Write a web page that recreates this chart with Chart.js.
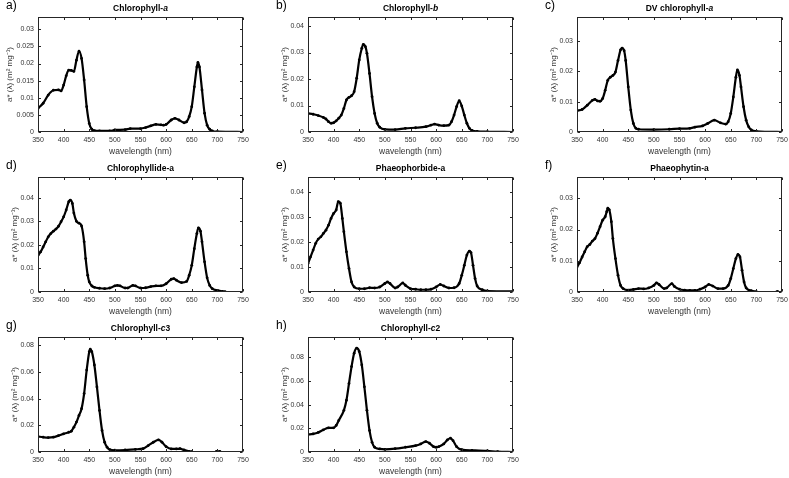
<!DOCTYPE html>
<html>
<head>
<meta charset="utf-8">
<script src="https://cdn.jsdelivr.net/npm/chart.js@4.4.1/dist/chart.umd.min.js"></script>
<style>
  body { margin: 0; background: #fff; }
  #fig { position: relative; width: 789px; height: 478px; overflow: hidden; background: #fff; }
  #fig canvas { position: absolute; }
</style>
</head>
<body>
<div id="fig"></div>
<script>
// wavelength axis (nm)
const xTicks = [350, 400, 450, 500, 550, 600, 650, 700, 750];

// a) Chlorophyll-a
const chlaWl = [350,360,370,380,390,395,400,405,410,415,420,425,430,435,440,445,450,455,460,470,490,500,520,530,550,560,570,580,590,595,600,610,617,625,635,640,645,650,655,660,662,665,670,675,680,685,690,700,750];
const chlaVal = [0.0069,0.0084,0.0108,0.0122,0.0123,0.012,0.0137,0.0164,0.0181,0.018,0.0177,0.021,0.0236,0.0215,0.0152,0.0074,0.0025,0.0008,0.0004,0.0003,0.0003,0.0006,0.0007,0.001,0.001,0.0013,0.0018,0.0022,0.0021,0.002,0.0022,0.0035,0.004,0.0035,0.0027,0.003,0.0045,0.0074,0.0132,0.019,0.0203,0.019,0.0123,0.0055,0.002,0.0008,0.0003,0.0001,0];
const chlaTicks = [0, 0.005, 0.01, 0.015, 0.02, 0.025, 0.03];

// b) Chlorophyll-b
const chlbWl = [350,360,370,380,385,390,395,400,405,410,415,420,425,430,435,440,445,450,455,458,462,465,470,475,480,485,490,500,520,540,560,580,590,597,605,615,625,630,635,640,645,650,655,660,665,670,680,700,750];
const chlbVal = [0.007,0.0067,0.0062,0.0055,0.0049,0.0039,0.0033,0.0035,0.0042,0.0052,0.0064,0.0089,0.0121,0.0131,0.0137,0.0152,0.0203,0.0272,0.0316,0.0331,0.0322,0.0297,0.0221,0.0133,0.007,0.0033,0.0018,0.001,0.0009,0.0014,0.0016,0.002,0.0026,0.003,0.0026,0.0024,0.0026,0.0039,0.0064,0.0096,0.0118,0.0098,0.0064,0.0033,0.0014,0.0006,0.0002,0.0001,0];
const chlbTicks = [0, 0.01, 0.02, 0.03, 0.04];

// c) DV chlorophyll-a
const dvchlaWl = [350,360,370,380,385,390,395,400,405,410,415,420,425,430,435,438,442,445,450,455,460,465,470,500,530,550,570,580,595,605,618,630,640,645,650,655,660,663,667,670,675,680,685,690,700,750];
const dvchlaVal = [0.007,0.0074,0.0088,0.0104,0.0107,0.0102,0.0101,0.011,0.0137,0.017,0.018,0.0186,0.0197,0.0235,0.027,0.0276,0.0267,0.0235,0.0148,0.0072,0.0028,0.0012,0.0009,0.0008,0.0009,0.0011,0.0012,0.0016,0.002,0.0028,0.0039,0.003,0.0026,0.0034,0.0061,0.0115,0.018,0.0204,0.0186,0.0148,0.0083,0.0039,0.0017,0.0007,0.0002,0];
const dvchlaTicks = [0, 0.01, 0.02, 0.03];

// d) Chlorophyllide-a
const chlideWl = [350,355,360,365,370,375,380,385,390,395,400,405,410,413,417,420,425,430,435,440,443,447,450,455,460,470,480,490,500,505,510,520,525,535,540,550,560,570,580,590,600,610,615,620,630,640,645,650,655,660,663,667,670,675,680,685,690,700,710,715];
const chlideVal = [0.0156,0.017,0.0191,0.0213,0.0234,0.0248,0.0258,0.0267,0.0279,0.0298,0.0319,0.0348,0.0383,0.039,0.0376,0.0335,0.03,0.0292,0.028,0.0213,0.0142,0.0071,0.0043,0.0026,0.002,0.0016,0.0014,0.0017,0.0026,0.0028,0.0026,0.0017,0.0017,0.0028,0.0026,0.0017,0.0018,0.0023,0.0026,0.0026,0.0035,0.0054,0.0057,0.005,0.004,0.0045,0.0071,0.0113,0.0184,0.0248,0.0272,0.0258,0.0213,0.0128,0.006,0.0028,0.0014,0.0007,0.0003,0.0001];
const chlideTicks = [0, 0.01, 0.02, 0.03, 0.04];

// e) Phaeophorbide-a
const phorbWl = [350,355,360,365,370,375,380,385,390,395,400,405,409,413,417,420,425,430,435,440,450,460,470,480,490,500,505,510,520,525,535,540,550,560,570,580,590,600,608,615,625,635,645,650,655,660,665,668,672,676,680,690,700,750];
const phorbVal = [0.0114,0.0141,0.0168,0.0195,0.0212,0.0221,0.0235,0.0248,0.0268,0.0295,0.0315,0.0329,0.0362,0.0356,0.0295,0.0242,0.0161,0.0094,0.004,0.002,0.0013,0.0013,0.0017,0.0016,0.002,0.0034,0.004,0.0034,0.0016,0.002,0.0036,0.0027,0.0013,0.0011,0.0009,0.0009,0.0011,0.002,0.003,0.0024,0.0016,0.0017,0.0034,0.0067,0.0107,0.0148,0.0164,0.0158,0.0107,0.0054,0.0024,0.0009,0.0004,0.0003];
const phorbTicks = [0, 0.01, 0.02, 0.03, 0.04];

// f) Phaeophytin-a
const phytWl = [350,355,360,365,370,375,380,385,390,395,400,405,408,410,413,417,420,425,430,435,440,450,460,470,480,490,500,505,510,520,525,535,540,550,560,570,580,590,600,607,615,625,635,645,650,655,660,664,668,672,676,680,690,700,720,740,742,746,750];
const phytVal = [0.008,0.0094,0.0112,0.0129,0.0145,0.0152,0.0163,0.0171,0.0188,0.0209,0.023,0.0241,0.0257,0.0268,0.0263,0.0225,0.0171,0.0107,0.0054,0.0021,0.0011,0.0006,0.0008,0.0011,0.001,0.0013,0.0021,0.0029,0.0024,0.0011,0.0013,0.0027,0.0018,0.0009,0.0006,0.0005,0.0005,0.0009,0.0016,0.0024,0.0019,0.0011,0.0011,0.0021,0.0043,0.0075,0.0107,0.012,0.0112,0.007,0.0032,0.0013,0.0004,0.0001,null,0.0001,0.0001,null,0.0001];
const phytTicks = [0, 0.01, 0.02, 0.03];

// g) Chlorophyll-c3
const chlc3Wl = [350,360,370,380,390,400,410,415,420,425,430,435,440,445,450,452,455,460,465,470,475,480,485,490,500,520,540,555,565,575,585,592,600,610,620,627,635,645,650,675,698,705,730,750];
const chlc3Val = [0.0116,0.0111,0.0108,0.0111,0.0123,0.0136,0.0148,0.0156,0.0186,0.0224,0.0274,0.0325,0.0438,0.0614,0.0752,0.077,0.0752,0.0652,0.0488,0.0312,0.0161,0.0073,0.0035,0.0018,0.0013,0.0015,0.002,0.0025,0.0048,0.0073,0.0091,0.0073,0.004,0.0023,0.0023,0.0025,0.0015,0.0005,0.0003,null,0.0005,0.0005,null,0.0003];
const chlc3Ticks = [0, 0.02, 0.04, 0.06, 0.08];

// h) Chlorophyll-c2
const chlc2Wl = [350,360,370,380,390,400,405,410,420,425,430,435,440,445,450,455,460,465,470,475,480,490,500,520,540,560,570,580,587,595,600,605,615,622,628,633,640,650,670,700,720,750];
const chlc2Val = [0.0148,0.0153,0.0165,0.0187,0.0204,0.0204,0.0224,0.0267,0.0352,0.0437,0.0579,0.0721,0.0834,0.0877,0.0848,0.0735,0.055,0.0352,0.0182,0.0082,0.004,0.0026,0.0023,0.0028,0.004,0.0054,0.0068,0.0088,0.0074,0.0045,0.004,0.0045,0.0068,0.0102,0.0116,0.0096,0.0045,0.002,0.0014,0.0009,0.0003,0];
const chlc2Ticks = [0, 0.02, 0.04, 0.06, 0.08];

// layout of the 3x3 grid (plot box corners)
const colLeft = [38, 308, 577];
const rowTop = [17, 177, 337];
const plotW = 205, plotH = 115;
const padL = 45, padT = 22, padR = 14, padB = 30;
const FONT = "'Liberation Sans', Arial, Helvetica, sans-serif";

const panels = [
  { tag: 'a)', title: [['Chlorophyll-', false], ['a', true]], wl: chlaWl, val: chlaVal, ticks: chlaTicks, yMax: 0.0336, col: 0, row: 0, yPad: 12 },
  { tag: 'b)', title: [['Chlorophyll-', false], ['b', true]], wl: chlbWl, val: chlbVal, ticks: chlbTicks, yMax: 0.0434, col: 1, row: 0, yPad: 17 },
  { tag: 'c)', title: [['DV chlorophyll-', false], ['a', true]], wl: dvchlaWl, val: dvchlaVal, ticks: dvchlaTicks, yMax: 0.0378, col: 2, row: 0, yPad: 17 },
  { tag: 'd)', title: [['Chlorophyllide-a', false]], wl: chlideWl, val: chlideVal, ticks: chlideTicks, yMax: 0.0488, col: 0, row: 1, yPad: 17 },
  { tag: 'e)', title: [['Phaeophorbide-a', false]], wl: phorbWl, val: phorbVal, ticks: phorbTicks, yMax: 0.0461, col: 1, row: 1, yPad: 17 },
  { tag: 'f)', title: [['Phaeophytin-a', false]], wl: phytWl, val: phytVal, ticks: phytTicks, yMax: 0.0368, col: 2, row: 1, yPad: 17 },
  { tag: 'g)', title: [['Chlorophyll-', false], ['c', true], ['3', false]], wl: chlc3Wl, val: chlc3Val, ticks: chlc3Ticks, yMax: 0.0862, col: 0, row: 2, yPad: 17 },
  { tag: 'h)', title: [['Chlorophyll-', false], ['c', true], ['2', false]], wl: chlc2Wl, val: chlc2Val, ticks: chlc2Ticks, yMax: 0.0971, col: 1, row: 2, yPad: 17 }
];

// box with inward ticks on all sides + bold title + panel letter
const framePlugin = {
  id: 'frame',
  afterDraw(chart, args, opts) {
    const { ctx, chartArea: a, scales } = chart;
    const L = Math.round(a.left) + 0.5, R = Math.round(a.right) - 0.5;
    const T = Math.round(a.top) + 0.5, B = Math.round(a.bottom) - 0.5;
    ctx.save();
    ctx.strokeStyle = '#262626';
    ctx.lineWidth = 1;
    ctx.strokeRect(L, T, R - L, B - T);
    const tl = 2.5;
    ctx.beginPath();
    scales.x.ticks.forEach(t => {
      const x = Math.round(scales.x.getPixelForValue(t.value)) + 0.5;
      ctx.moveTo(x, B); ctx.lineTo(x, B - tl);
      ctx.moveTo(x, T); ctx.lineTo(x, T + tl);
    });
    scales.y.ticks.forEach(t => {
      const y = Math.round(scales.y.getPixelForValue(t.value)) + 0.5;
      ctx.moveTo(L, y); ctx.lineTo(L + tl, y);
      ctx.moveTo(R, y); ctx.lineTo(R - tl, y);
    });
    ctx.stroke();

    // title with mixed italic parts
    ctx.fillStyle = '#000';
    ctx.textBaseline = 'middle';
    ctx.textAlign = 'left';
    const fontOf = it => (it ? 'italic ' : '') + 'bold 8.5px ' + FONT;
    let w = 0;
    opts.title.forEach(([s, it]) => { ctx.font = fontOf(it); w += ctx.measureText(s).width; });
    let x = (a.left + a.right) / 2 - w / 2;
    opts.title.forEach(([s, it]) => {
      ctx.font = fontOf(it);
      ctx.fillText(s, x, a.top - 8);
      x += ctx.measureText(s).width;
    });

    ctx.font = '12px ' + FONT;
    ctx.fillText(opts.tag, a.left - 32, a.top - 11);
    ctx.restore();
  }
};

const fig = document.getElementById('fig');

panels.forEach(p => {
  const cv = document.createElement('canvas');
  const w = padL + plotW + padR, h = padT + plotH + padB;
  cv.width = w; cv.height = h;
  cv.style.width = w + 'px'; cv.style.height = h + 'px';
  cv.style.left = (colLeft[p.col] - padL) + 'px';
  cv.style.top = (rowTop[p.row] - padT) + 'px';
  fig.appendChild(cv);

  const points = p.wl.map((wl, i) => ({ x: wl, y: p.val[i] }));

  new Chart(cv, {
    type: 'line',
    data: {
      datasets: [{
        data: points,
        borderColor: '#000',
        borderWidth: 2.2,
        pointRadius: 1.4,
        pointBackgroundColor: '#000',
        pointBorderWidth: 0,
        cubicInterpolationMode: 'monotone',
        spanGaps: false
      }]
    },
    plugins: [framePlugin],
    options: {
      responsive: false,
      animation: false,
      devicePixelRatio: 1,
      layout: { padding: { top: padT, right: padR, left: 0, bottom: 0 } },
      plugins: {
        legend: { display: false },
        tooltip: { enabled: false },
        frame: { tag: p.tag, title: p.title }
      },
      scales: {
        x: {
          type: 'linear',
          min: 350,
          max: 750,
          grid: { display: false, drawTicks: false, tickLength: 0 },
          border: { display: false },
          afterBuildTicks: s => { s.ticks = xTicks.map(v => ({ value: v })); },
          afterFit: s => { s.height = padB; },
          ticks: { font: { size: 7, family: FONT }, color: '#333', padding: 4, maxRotation: 0, autoSkip: false },
          title: { display: true, text: 'wavelength (nm)', font: { size: 8.5, family: FONT }, color: '#333', padding: { top: 0, bottom: 5 } }
        },
        y: {
          type: 'linear',
          min: 0,
          max: p.yMax,
          grid: { display: false, drawTicks: false, tickLength: 0 },
          border: { display: false },
          afterBuildTicks: s => { s.ticks = p.ticks.map(v => ({ value: v })); },
          afterFit: s => { s.width = padL; },
          ticks: { font: { size: 7, family: FONT }, color: '#333', padding: 4, callback: v => String(v) },
          title: { display: true, text: 'a* (λ) (m² mg⁻¹)', font: { size: 8, family: FONT }, color: '#333', padding: { top: p.yPad, bottom: 0 } }
        }
      }
    }
  });
});
</script>
</body>
</html>
